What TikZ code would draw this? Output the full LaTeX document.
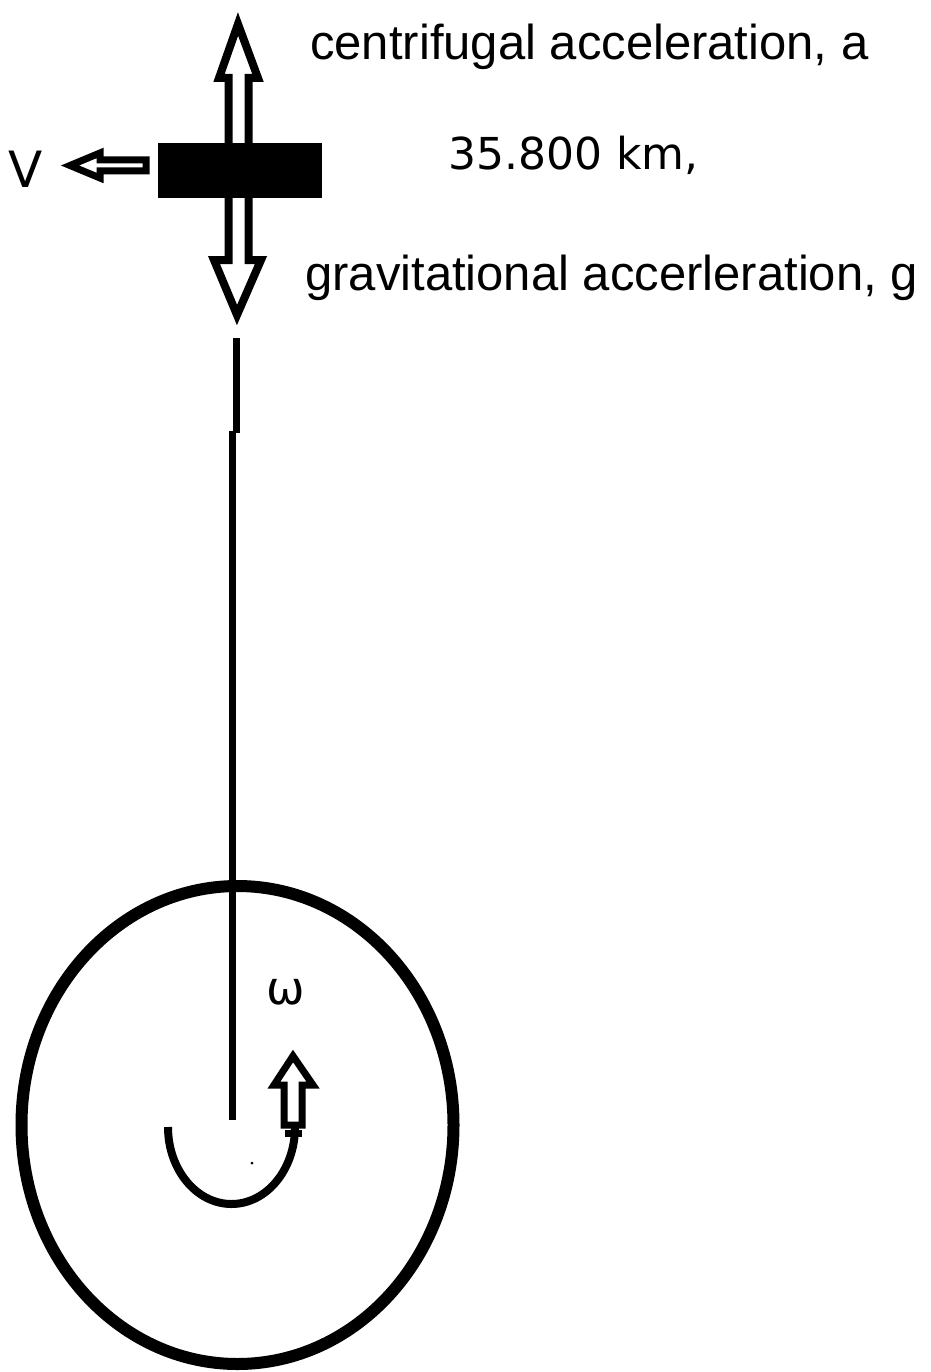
\documentclass[tikz,border=0pt]{standalone}
\usepackage{fontspec}
\setmainfont{Liberation Sans}
\newfontfamily\tah{DejaVu Sans}
\begin{document}
\begin{tikzpicture}[x=1pt,y=-1pt,
  blk/.style={draw=black,line width=8pt,line join=miter,fill=white},
  sblk/.style={draw=black,line width=7pt,line join=miter,fill=white},
  lbl/.style={inner sep=0pt,anchor=base west}]
\useasboundingbox (0,0) rectangle (930,1372);
% Earth
\draw[line width=12pt] (237.5,1125) ellipse [x radius=216, y radius=239];
% tether
\draw[line width=7pt] (236,338) -- (236,433);
\draw[line width=7pt] (232,431) -- (232,1120);
% up arrow (centrifugal)
\draw[blk] (228.5,150) -- (228.5,78) -- (219,78) -- (238,24) -- (258,78) -- (248.5,78) -- (248.5,150);
% down arrow (gravitational)
\draw[blk] (228.5,190) -- (228.5,260) -- (214,260) -- (237,315) -- (261,260) -- (248.5,260) -- (248.5,190);
% satellite
\fill[black] (158,143) rectangle (322,198);
% velocity arrow
\draw[sblk] (100,160) -- (146,160) -- (146,171) -- (100,171) -- (100,178) -- (70,165.5) -- (100,153) -- cycle;
% rotation arrow
\draw[sblk] (284,1125) -- (284,1085) -- (274,1085) -- (293,1056) -- (313,1085) -- (302,1085) -- (302,1125) -- cycle;
\draw[line width=7pt] (285,1133) -- (302,1133);
\draw[line width=8pt] (168,1127) arc[start angle=180,end angle=0,x radius=63.5,y radius=77];
\fill (252,1163) circle (1.5);
% labels
\node[lbl,font=\fontsize{49}{50}\selectfont] (ca) at (310,60) {centrifugal acceleration, a};
\node[lbl,font=\tah\fontsize{44}{46}\selectfont] (dist) at (448,170) {35.800 km,};
\node[lbl,font=\fontsize{49}{50}\selectfont] (ga) at (305,290) {gravitational accerleration, g};
\node[lbl,font=\tah\fontsize{50}{52}\selectfont] (v) at (8,188) {V};
\node[inner sep=0pt,font=\tah\fontsize{46}{48}\selectfont] (w) at (286,992) {ω};
\end{tikzpicture}
\end{document}
